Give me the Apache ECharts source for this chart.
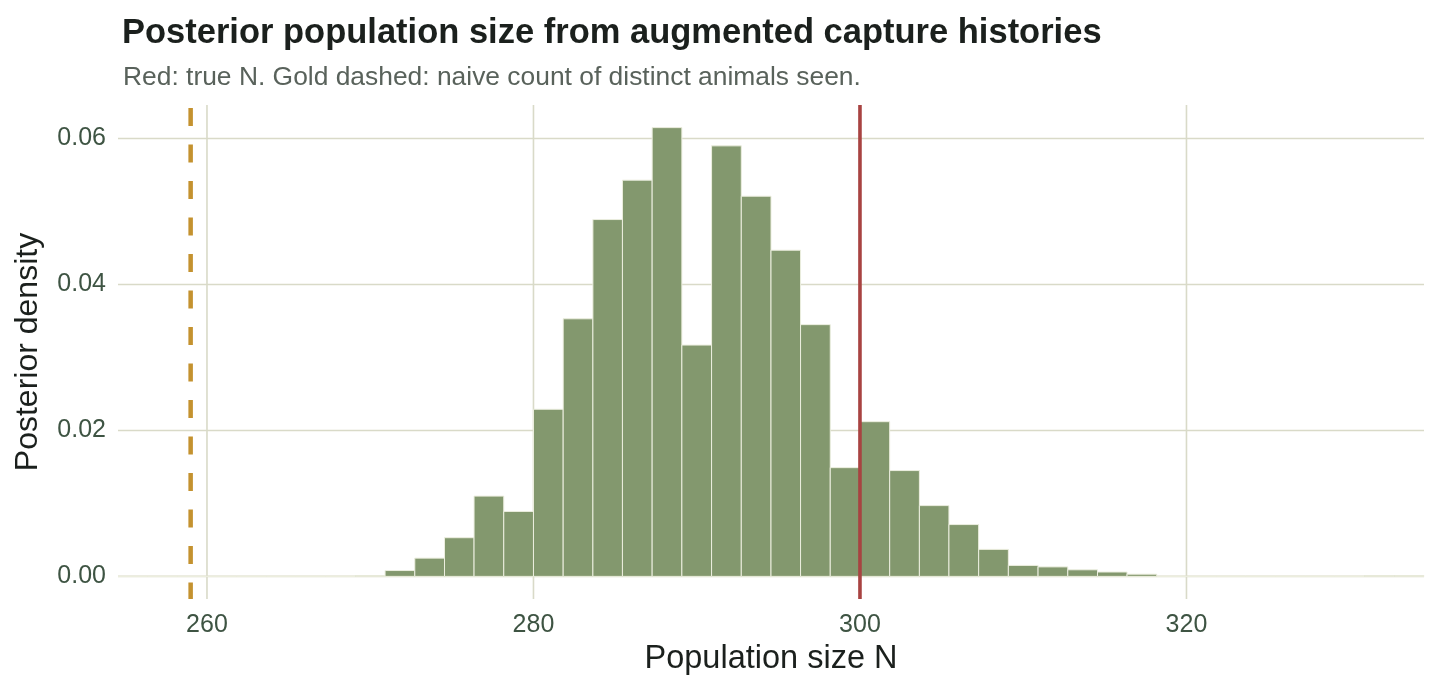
<!DOCTYPE html>
<html>
<head>
<meta charset="utf-8">
<title>Posterior population size</title>
<script src="https://cdn.jsdelivr.net/npm/echarts@6/dist/echarts.min.js"></script>
<style>
  html, body { margin: 0; padding: 0; background: #ffffff; }
  #chart { width: 1440px; height: 691px; }
</style>
</head>
<body>
<div id="chart"></div>
<script>
// histogram bin edges (45 edges -> 44 bins) and posterior density per bin
const binEdges = [
  254.55, 256.36, 258.18, 260.00, 261.82, 263.64, 265.45, 267.27, 269.09, 270.91,
  272.73, 274.55, 276.36, 278.18, 280.00, 281.82, 283.64, 285.45, 287.27, 289.09,
  290.91, 292.73, 294.55, 296.36, 298.18, 300.00, 301.82, 303.64, 305.45, 307.27,
  309.09, 310.91, 312.73, 314.55, 316.36, 318.18, 320.00, 321.82, 323.64, 325.45,
  327.27, 329.09, 330.91, 332.73, 334.55
];
const density = [
  0, 0, 0, 0, 0, 0, 0, 0, 0.0001, 0.0008,
  0.0025, 0.0053, 0.0110, 0.0089, 0.0229, 0.0353, 0.0489, 0.0543, 0.0615, 0.0317,
  0.0590, 0.0521, 0.0447, 0.0345, 0.0149, 0.0212, 0.0145, 0.0097, 0.0071, 0.0037,
  0.0015, 0.0013, 0.0009, 0.0006, 0.0003, 0, 0, 0, 0, 0,
  0, 0, 0.0001, 0.0001
];
const xTicks = [260, 280, 300, 320];
const yTicks = [0, 0.02, 0.04, 0.06];
const trueN = 300;
const naiveCount = 259;

const gridColor = '#d9dac8';
const labelColor = '#3e5443';

const binData = density.map((d, i) => [binEdges[i], binEdges[i + 1], d]);

const chart = echarts.init(document.getElementById('chart'));

// vertical line across the whole plot panel at an x value
function vLine(style) {
  return function (params, api) {
    const cs = params.coordSys;
    const x = api.coord([api.value(0), 0])[0];
    return {
      type: 'line',
      shape: { x1: x, y1: cs.y, x2: x, y2: cs.y + cs.height },
      style: style
    };
  };
}

const option = {
  backgroundColor: '#ffffff',
  animation: false,
  title: [
    {
      text: 'Posterior population size from augmented capture histories',
      left: 117, top: 11,
      textStyle: { fontFamily: 'Liberation Sans', fontSize: 34.5, fontWeight: 'bold', color: '#1b201d' }
    },
    {
      text: 'Red: true N. Gold dashed: naive count of distinct animals seen.',
      left: 118, top: 60,
      textStyle: { fontFamily: 'Liberation Sans', fontSize: 26.4, fontWeight: 'normal', color: '#59625b' }
    }
  ],
  grid: { left: 118, right: 16, top: 105, bottom: 92 },
  xAxis: {
    type: 'value',
    min: 254.55,
    max: 334.55,
    name: 'Population size N',
    nameLocation: 'middle',
    nameGap: 40,
    nameTextStyle: { fontFamily: 'Liberation Sans', fontSize: 32.5, color: '#1b201d' },
    axisLine: { show: false, onZero: false },
    axisTick: { show: false },
    splitLine: { show: false },
    axisLabel: {
      customValues: xTicks,
      margin: 14,
      fontFamily: 'Liberation Sans', fontSize: 25, color: labelColor
    }
  },
  yAxis: {
    type: 'value',
    min: -0.0031,
    max: 0.0646,
    name: 'Posterior density',
    nameLocation: 'middle',
    nameGap: 74,
    nameTextStyle: { fontFamily: 'Liberation Sans', fontSize: 32, color: '#1b201d' },
    axisLine: { show: false, onZero: false },
    axisTick: { show: false },
    splitLine: { show: false },
    axisLabel: {
      customValues: yTicks,
      margin: 12,
      formatter: v => v.toFixed(2),
      fontFamily: 'Liberation Sans', fontSize: 25, color: labelColor
    }
  },
  series: [
    {
      // horizontal grid lines
      type: 'custom',
      z: 1,
      silent: true,
      data: yTicks.map(v => [v]),
      renderItem: function (params, api) {
        const cs = params.coordSys;
        const y = api.coord([binEdges[0], api.value(0)])[1];
        return {
          type: 'line',
          shape: { x1: cs.x, y1: y, x2: cs.x + cs.width, y2: y },
          style: { stroke: gridColor, lineWidth: 1.6 }
        };
      },
      encode: { x: -1, y: 0 }
    },
    {
      // vertical grid lines
      type: 'custom',
      z: 1,
      silent: true,
      data: xTicks.map(v => [v]),
      renderItem: vLine({ stroke: gridColor, lineWidth: 1.6 }),
      encode: { x: 0, y: -1 }
    },
    {
      // histogram bars
      type: 'custom',
      z: 2,
      data: binData,
      renderItem: function (params, api) {
        const p0 = api.coord([api.value(0), 0]);
        const p1 = api.coord([api.value(1), api.value(2)]);
        return {
          type: 'rect',
          shape: { x: p0[0], y: p1[1], width: p1[0] - p0[0], height: p0[1] - p1[1] },
          style: { fill: '#83986e', stroke: '#eceedf', lineWidth: 1 }
        };
      },
      encode: { x: [0, 1], y: 2 }
    },
    {
      // naive count of distinct animals seen
      type: 'custom',
      z: 3,
      silent: true,
      data: [[naiveCount]],
      renderItem: vLine({ stroke: '#c4922f', lineWidth: 4.5, lineDash: [18, 18.5], lineDashOffset: -3 }),
      encode: { x: 0, y: -1 }
    },
    {
      // true population size
      type: 'custom',
      z: 3,
      silent: true,
      data: [[trueN]],
      renderItem: vLine({ stroke: '#a84341', lineWidth: 3.6 }),
      encode: { x: 0, y: -1 }
    }
  ]
};

chart.setOption(option);
</script>
</body>
</html>
